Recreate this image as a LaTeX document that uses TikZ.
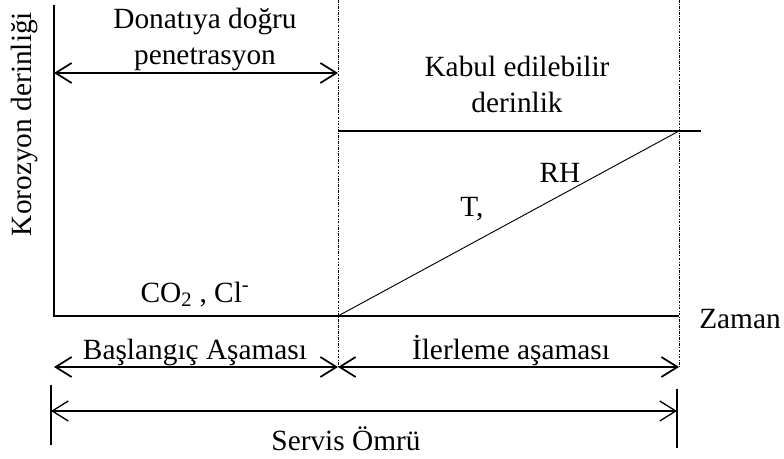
\documentclass[tikz,border=0pt]{standalone}
\usepackage{fontspec}
\setmainfont{Liberation Serif}
\usetikzlibrary{arrows.meta,positioning,calc}

\begin{document}
\begin{tikzpicture}[x=0.75pt, y=-0.75pt, >={Straight Barb[length=12pt,width=15pt]},
    font=\fontsize{22}{27}\selectfont,
    axis/.style={line width=1.3pt},
    guide/.style={line width=0.5pt, dash pattern=on 2pt off 1pt on 0.6pt off 1pt},
    span/.style={<->, line width=1.3pt},
    lbl/.style={anchor=base, inner sep=0pt, align=center}]
    \useasboundingbox (0,0) rectangle (784,459);

    % axes
    \coordinate (origin) at (54,316);
    \coordinate (ytop) at (54,5);
    \coordinate (tend) at (679,316);
    \draw[axis] (ytop) -- (origin) -- (tend);
    \node[lbl, anchor=base west] (time) at (699,328) {Zaman};
    \node[lbl, rotate=90, anchor=center] (depth) at (24,124) {Korozyon derinliği};

    % stage boundaries
    \coordinate (btop) at (338,0);
    \coordinate (bbot) at (338,367);
    \coordinate (etop) at (679,0);
    \coordinate (ebot) at (679,367);
    \draw[guide] (btop) -- (bbot);
    \draw[guide] (etop) -- (ebot);

    % acceptable depth and progression
    \coordinate (limL) at (338,131);
    \coordinate (limR) at (701,131);
    \coordinate (limX) at (679,131);
    \coordinate (prog0) at (338,316);
    \draw[axis] (limL) -- (limR);
    \draw[line width=0.7pt] (prog0) -- (limX);

    % penetration span
    \coordinate (penL) at (54,73);
    \coordinate (penR) at (338,73);
    \draw[span] (penL) -- (penR);
    \node[lbl] (pen) at (205,65) {Donatıya doğru\\penetrasyon};
    \node[lbl] (kabul) at (517,113) {Kabul edilebilir\\derinlik};
    \node[lbl] (rh) at (560,183) {RH};
    \node[lbl] (tc) at (472,217) {T,};
    \node[lbl] (agents) at (195,302) {CO\textsubscript{2} , Cl\textsuperscript{-}};

    % stage spans
    \coordinate (iniL) at (54,367);
    \coordinate (iniR) at (338,367);
    \coordinate (proR) at (679,367);
    \draw[span] (iniL) -- (iniR);
    \draw[span] (iniR) -- (proR);
    \node[lbl] (ini) at (195,359) {Başlangıç Aşaması};
    \node[lbl] (pro) at (511,359) {İlerleme aşaması};

    % service life
    \coordinate (svL) at (51,411);
    \coordinate (svR) at (677,411);
    \draw[span, line width=1pt] (svL) -- (svR);
    \draw[line width=1pt] ($(svL)+(0,-26)$) -- ($(svL)+(0,34)$);
    \draw[line width=1pt] ($(svR)+(0,-22)$) -- ($(svR)+(0,37)$);
    \node[lbl] (service) at (346,450) {Servis Ömrü};
\end{tikzpicture}
\end{document}
